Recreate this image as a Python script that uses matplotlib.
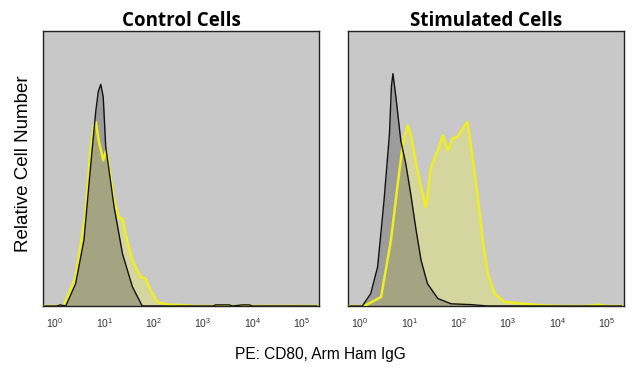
import numpy as np
import matplotlib
matplotlib.use("Agg")
from matplotlib import pyplot as plt

# log10 fluorescence positions and relative counts
ctrl_iso_x = [-0.2, 0.05, 0.1, 0.22, 0.42, 0.59, 0.72, 0.83, 0.88, 0.93, 0.98, 1.03, 1.20, 1.37, 1.57, 1.77,
              2.0, 3.2, 3.26, 3.53, 3.6, 3.8, 3.94, 4.0, 5.3]
ctrl_iso_y = [0.0, 0.0, 0.004, 0.0, 0.08, 0.24, 0.50, 0.71, 0.78, 0.806, 0.76, 0.58, 0.36, 0.19, 0.07, 0.0,
              0.0, 0.0, 0.004, 0.004, 0.0, 0.004, 0.004, 0.0, 0.0]

ctrl_cd80_x = [-0.2, 0.18, 0.42, 0.62, 0.72, 0.79, 0.83, 0.89, 0.98, 1.04, 1.10, 1.20, 1.30, 1.37,
               1.43, 1.57, 1.74, 1.84, 1.94, 2.08, 2.25, 2.72, 2.79, 5.3]
ctrl_cd80_y = [0.0, 0.0, 0.105, 0.335, 0.566, 0.657, 0.669, 0.60, 0.53, 0.566, 0.505, 0.384, 0.32, 0.318,
               0.263, 0.166, 0.105, 0.10, 0.057, 0.015, 0.006, 0.002, 0.0, 0.0]

stim_iso_x = [-0.2, 0.05, 0.22, 0.36, 0.49, 0.60, 0.64, 0.67, 0.73, 0.83, 0.93, 1.03, 1.14, 1.24, 1.37,
              1.58, 1.85, 2.25, 2.59, 5.3]
stim_iso_y = [0.0, 0.0, 0.045, 0.142, 0.384, 0.627, 0.80, 0.845, 0.76, 0.60, 0.518, 0.408, 0.275, 0.166, 0.081,
              0.027, 0.008, 0.005, 0.0, 0.0]

stim_cd80_x = [-0.2, 0.09, 0.43, 0.63, 0.76, 0.87, 0.97, 1.03, 1.14, 1.24, 1.34, 1.44, 1.58, 1.68,
               1.78, 1.88, 1.98, 2.08, 2.18, 2.29, 2.39, 2.49, 2.59, 2.73, 2.93, 3.33, 3.74, 4.14,
               4.6, 4.82, 5.02, 5.3]
stim_cd80_y = [0.0, 0.0, 0.033, 0.24, 0.433, 0.59, 0.657, 0.627, 0.518, 0.433, 0.36, 0.505, 0.566, 0.62,
               0.566, 0.61, 0.615, 0.645, 0.669, 0.53, 0.396, 0.24, 0.118, 0.045, 0.015, 0.008, 0.002, 0.0,
               0.0, 0.005, 0.0, 0.0]

titles = ["Control Cells", "Stimulated Cells"]
tick_exps = [0, 1, 2, 3, 4, 5]

plt.rcParams['font.family'] = ['Liberation Sans', 'DejaVu Sans']
plt.rcParams['mathtext.fontset'] = 'custom'
plt.rcParams['mathtext.rm'] = 'Liberation Sans'
plt.rcParams['mathtext.it'] = 'Liberation Sans'
plt.rcParams['mathtext.default'] = 'regular'

fig = plt.figure(figsize=(6.4, 3.77), dpi=100)
boxes = [[43/640, 1 - 306/377, 276/640, 275/377],
         [348/640, 1 - 306/377, 276/640, 275/377]]
panels = [(ctrl_iso_x, ctrl_iso_y, ctrl_cd80_x, ctrl_cd80_y),
          (stim_iso_x, stim_iso_y, stim_cd80_x, stim_cd80_y)]

for box, title, (ix, iy, cx, cy) in zip(boxes, titles, panels):
    ax = fig.add_axes(box)
    ax.set_facecolor('#c8c8c8')
    ix = 10 ** np.array(ix)
    cx = 10 ** np.array(cx)

    # stained sample under, isotype over it
    ax.fill_between(cx, cy, 0, color='#d5d5a0', lw=0, zorder=1)
    ax.fill_between(ix, iy, 0, color='#4a4a4a', alpha=0.35, lw=0, zorder=2)
    ax.plot(cx, cy, color='#eeee22', lw=1.8, zorder=3)
    ax.plot(ix, iy, color='#111111', lw=1.0, zorder=4)

    ax.set_xscale('log')
    ax.set_xlim(10 ** -0.24, 10 ** 5.35)
    ax.set_ylim(0, 1)
    ax.set_yticks([])
    ax.set_xticks([10.0 ** e for e in tick_exps])
    ax.set_xticklabels(['$10^{%d}$' % e for e in tick_exps], fontsize=7.5, color='#333333')
    ax.xaxis.set_minor_locator(matplotlib.ticker.NullLocator())
    ax.tick_params(axis='x', length=0, pad=7)
    for s in ax.spines.values():
        s.set_linewidth(1.0)
        s.set_color('#222222')
    ax.set_title(title, fontsize=13.5, fontweight='bold', family='Open Sans', pad=3)

fig.text(24/640, 1 - 164/377, 'Relative Cell Number', rotation=90, ha='center', va='center', fontsize=13.5)
fig.text(320/640, 1 - 355/377, 'PE: CD80, Arm Ham IgG', ha='center', va='center', fontsize=11.2)

fig.savefig('out.png', dpi=100)
